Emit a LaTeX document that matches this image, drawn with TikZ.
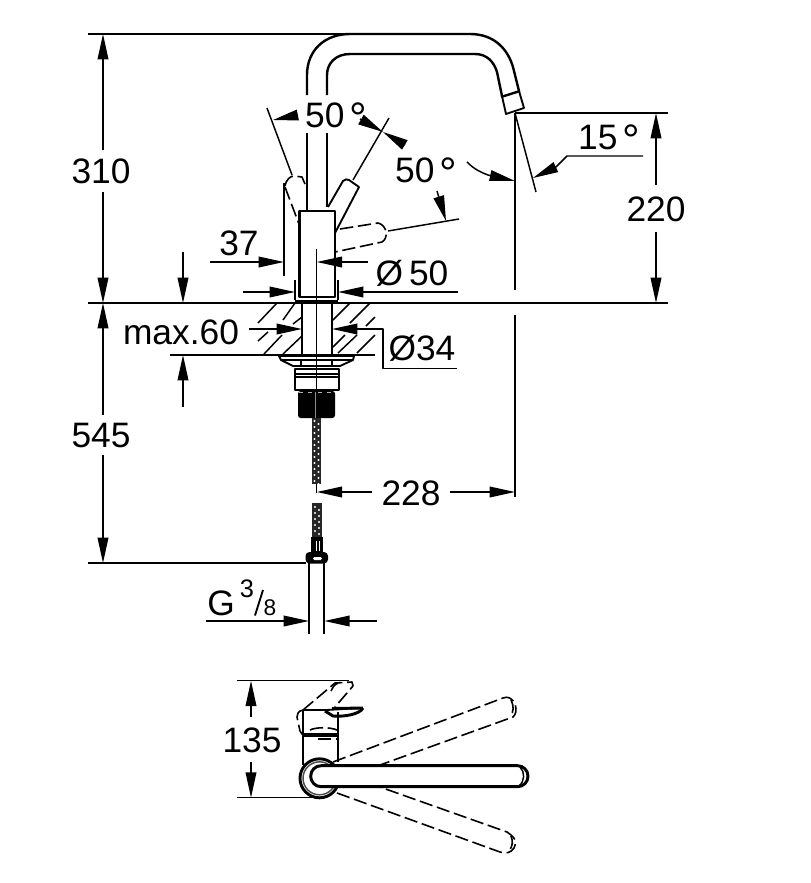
\documentclass[tikz,border=0pt]{standalone}
\usepackage{fontspec}
\setmainfont{Liberation Sans}
\usetikzlibrary{arrows.meta}
\newcommand{\bigdeg}{\hspace{3.5pt}{\fontsize{33}{33}\selectfont\raisebox{-5pt}{°}}}
\tikzset{
 thinl/.style={line width=1.1pt,black},
 thickl/.style={line width=1.8pt,black},
 midl/.style={line width=1.4pt,black},
 dashl/.style={line width=1.2pt,black,dash pattern=on 10pt off 3.5pt},
 dimtip/.style={-{Triangle[length=19pt,width=8pt]},thinl},
 lab/.style={inner sep=0pt,anchor=base,font=\fontsize{26.5}{26.5}\selectfont},
 smalllab/.style={inner sep=0pt,anchor=base,font=\fontsize{19}{19}\selectfont},
}
\begin{document}
\begin{tikzpicture}[x=0.75pt,y=-0.75pt,line join=round]
\useasboundingbox (0,0) rectangle (811,883);
\fill[white] (0,0) rectangle (811,883);
% named points for dimensions
\coordinate (d310top) at (103,34);
\coordinate (floor) at (103,303);
\coordinate (d545bot) at (103,563);
% reference lines
\draw[thinl] (88,34) -- (350,34);
\draw[thinl] (88,303) -- (668,303);
\draw[thinl] (88,563) -- (306,563);
\draw[thinl] (170,355) -- (375,355);
\draw[thinl] (515,113) -- (668,113);
\draw[thinl] (515,113) -- (515,290);
\draw[thinl] (515,315) -- (515,497);
% 310 / 545
\node[lab] (t310) at (101,183) {310};
\node[lab] (t545) at (101,447) {545};
\draw[dimtip] (103,150) -- (d310top);
\draw[dimtip] (103,192) -- (floor);
\draw[dimtip] (103,415) -- (floor);
\draw[dimtip] (103,455) -- (d545bot);
% 220
\node[lab] (t220) at (656,221) {220};
\draw[dimtip] (656,185) -- (656,113);
\draw[dimtip] (656,232) -- (656,303);
% spout
\draw[thickl] (307,95) -- (307,75) .. controls (307,50) and (325,34) .. (350,34) -- (470,34) .. controls (495,34) and (508,50) .. (513,67) -- (519,91);
\draw[thickl] (327,95) -- (327,75) .. controls (327,63) and (336,54) .. (350,54) -- (475,54) .. controls (487,54) and (494,62) .. (497,72) -- (502,96);
\draw[midl] (502,96) -- (506,114) -- (524,108) -- (519,91);
\draw[thickl] (501,97) -- (520,91);
\draw[thickl] (307,133) -- (307,210);
\draw[thickl] (327,133) -- (327,207);
% levers front view
\draw[thinl] (267,108) -- (292,175);
\draw[thinl] (284,183) -- (284,276);
\draw[dashl] (285,186) .. controls (286,180) and (290,176) .. (294,176) -- (302,177) -- (305,184);
\draw[dashl] (285,187) -- (299,224);
\draw[midl] (328,207) -- (343,181) .. controls (345,179) and (347,179) .. (349,180) -- (359,187) -- (335,233);
\draw[thinl] (353,180) -- (389,118);
\draw[dashl] (340,229) -- (378,223) .. controls (387,225) and (389,238) .. (382,242) -- (335,252);
\draw[thinl] (388,231) -- (459,219);
% body
\draw[thickl] (299.5,211) rectangle (335,297);
\draw[thinl] (316.7,249) -- (316.7,493);
% flange
\draw[thickl] (295,301) -- (338,301);
\draw[thinl] (295,280) -- (295,300);
\draw[thinl] (338,280) -- (338,300);
% 37
\node[lab] (t37) at (239,255) {37};
\draw[dimtip] (210,262) -- (284,262);
\draw[dimtip] (368,262) -- (316.7,262);
\node[lab] (t50d) at (412,285) {Ø\,50};
% Ø50
\draw[dimtip] (243,292) -- (295,292);
\draw[dimtip] (458,292) -- (338,292);
% hatch block
\draw[thickl] (302,303) -- (302,355);
\draw[thickl] (332,303) -- (332,355);
\foreach \a/\b/\c/\d in {258/323/277/303,283/320/295/303,293/324/302/317,258/341/268/332,264/354/282/335,283/354/302/336,333/320/350/303,350/323/370/303,366/326/375/317,333/347/345/335,338/353/357/335,357/353/375/335}
  \draw[thinl] (\a,\b) -- (\c,\d);
% max.60
\node[lab] (tmax) at (181,344) {max.60};
\draw[dimtip] (183,252) -- (183,303);
\draw[dimtip] (183,407) -- (183,355);
% Ø34
\node[lab] (t34) at (422,360) {Ø34};
\draw[dimtip] (249,329) -- (302,329);
\draw[dimtip] (357,329) -- (332,329);
\draw[thinl] (357,329) -- (383,329) -- (383,368.7) -- (457,368.7);
% under-counter parts
\draw[midl] (279,356) -- (354,356) -- (353,360) -- (340,366) -- (293,366) -- (281,360) -- cycle;
\draw[thinl] (282,360) -- (352,360);
\draw[thinl] (301,360) -- (301,366);
\draw[thinl] (332,360) -- (332,366);
\draw[thickl,fill=white] (295,369) rectangle (339,390);
\draw[midl] (295,374) -- (339,374);
\draw[midl] (296,377) -- (338,377);
\draw[thinl] (316.7,369) -- (316.7,390);
\fill[black,rounded corners=2pt] (298,391) rectangle (335,418);
\draw[line width=0.3pt,black!45] (315.5,392) -- (315.5,418);
\draw[black!30,line width=0.8pt,dash pattern=on 3pt off 4pt] (299,392.5) -- (334,392.5);
% hose upper
\fill[black!85] (312,418) rectangle (321,484);
\foreach \i in {0,...,10} {
  \fill[white] (314.5,{421+\i*6}) circle (1.2);
  \fill[white] (318.5,{424+\i*6}) circle (1.2);
}
% 228
\node[lab] (t228) at (411,505) {228};
\draw[dimtip] (372,492) -- (316.7,492);
\draw[dimtip] (450,492) -- (515,492);
% hose lower
\fill[black!85] (312,503) rectangle (322,538);
\foreach \i in {0,...,4} {
  \fill[white] (315,{507+\i*6}) circle (1.2);
  \fill[white] (319,{510+\i*6}) circle (1.2);
}
\fill[black] (311,537) rectangle (323,553);
\draw[white,line width=0.6pt] (316,541) -- (316,551);
\draw[white,line width=0.6pt] (319,541) -- (319,551);
\fill[black,rounded corners=3pt] (305.5,552) rectangle (328,563.5);
\fill[white,rounded corners=1pt] (313,557) rectangle (322,560);
% pipe
\draw[midl] (309,563) -- (309,634);
\draw[midl] (324.3,563) -- (324.3,634);
% G 3/8
\node[lab] (tG) at (221,615) {G};
\node[smalllab] (t3) at (247,597) {3};
\node[smalllab,font=\fontsize{17}{17}\selectfont] (t8) at (270,615) {8};
\draw[midl] (255,615.5) -- (263,590);
\draw[dimtip] (206,621) -- (309,621);
\draw[dimtip] (377,621) -- (324.3,621);
% angle labels
\node[lab] (t50a) at (336,127) {50\bigdeg};
\node[lab] (t50b) at (426,182) {50\bigdeg};
\draw[dimtip] (298,115) -- (273,120);
\draw[dimtip] (360,119) -- (383,132);
\draw[dimtip] (405,145) -- (383,132);
\draw[dimtip] (437,191) -- (446,221);
\draw[thinl] (467,162) .. controls (474,169) and (480,172) .. (488,175);
\draw[dimtip] (488,175) -- (515,181);
% 15
\node[lab] (t15) at (609,149) {15\bigdeg};
\draw[thinl] (515,113) -- (536,192);
\draw[thinl] (643,156) -- (567,156) -- (556,167);
\draw[dimtip] (556,167) -- (533,178);
% ---- plan view ----
\draw[thinl] (237,680.7) -- (349,680.7);
\draw[thinl] (237,797.7) -- (315,797.7);
\node[lab] (t135) at (252,752) {135};
\draw[dimtip] (251,717) -- (251,680.7);
\draw[dimtip] (251,762) -- (251,797.7);
% dashed arms
\draw[dashl] (333,762) -- (503,698) .. controls (508,696) and (512,698) .. (515,704) .. controls (517,710) and (516,714) .. (513,717) -- (380,765);
\draw[dashl] (337,793) -- (500,852) .. controls (505,854) and (511,853) .. (514,848) .. controls (517,842) and (516,838) .. (507,832) -- (380,787);
\draw[dashl] (511,700) .. controls (514,706) and (514,712) .. (510,716);
\draw[dashl] (511,836) .. controls (513,841) and (513,846) .. (509,851);
% dashed top lever
\draw[dashl] (303,710) -- (335,683) -- (352,682) -- (353,686) -- (335,707);
\draw[dashl] (338,683) .. controls (334,685) and (332,688) .. (331,691);
\draw[dashl] (303,710) .. controls (298,711) and (297,714) .. (297,717) -- (300,731) .. controls (301,734) and (303,735) .. (305,735);
\draw[dashl] (310,730) .. controls (316,727) and (330,727) .. (337,730);
\draw[dashl] (318,739) -- (338,739);
% body plan
\draw[midl] (303,710) -- (303,765);
\draw[midl] (338,712) -- (338,762);
\draw[thickl] (303,710) -- (330,710);
\draw[line width=2.4pt] (303,735) -- (338,735);
\draw[midl] (326,710) -- (362,708);
\draw[line width=2.2pt] (363,708) .. controls (360,714) and (345,717) .. (333,716) -- (325,711);
\draw[line width=2.2pt] (332,708.5) -- (363,708);
% ring and arm
\draw[line width=2.2pt,fill=white] (319.5,778.3) circle (19.5);
\draw[thinl,black!70] (319.5,778.3) circle (16.5);
\draw[line width=2.2pt,fill=white,rounded corners=7.8pt] (310.7,765.7) rectangle (528,786.7);
\draw[thinl] (520,767) .. controls (525,772) and (525,781) .. (519,786);
\end{tikzpicture}
\end{document}
